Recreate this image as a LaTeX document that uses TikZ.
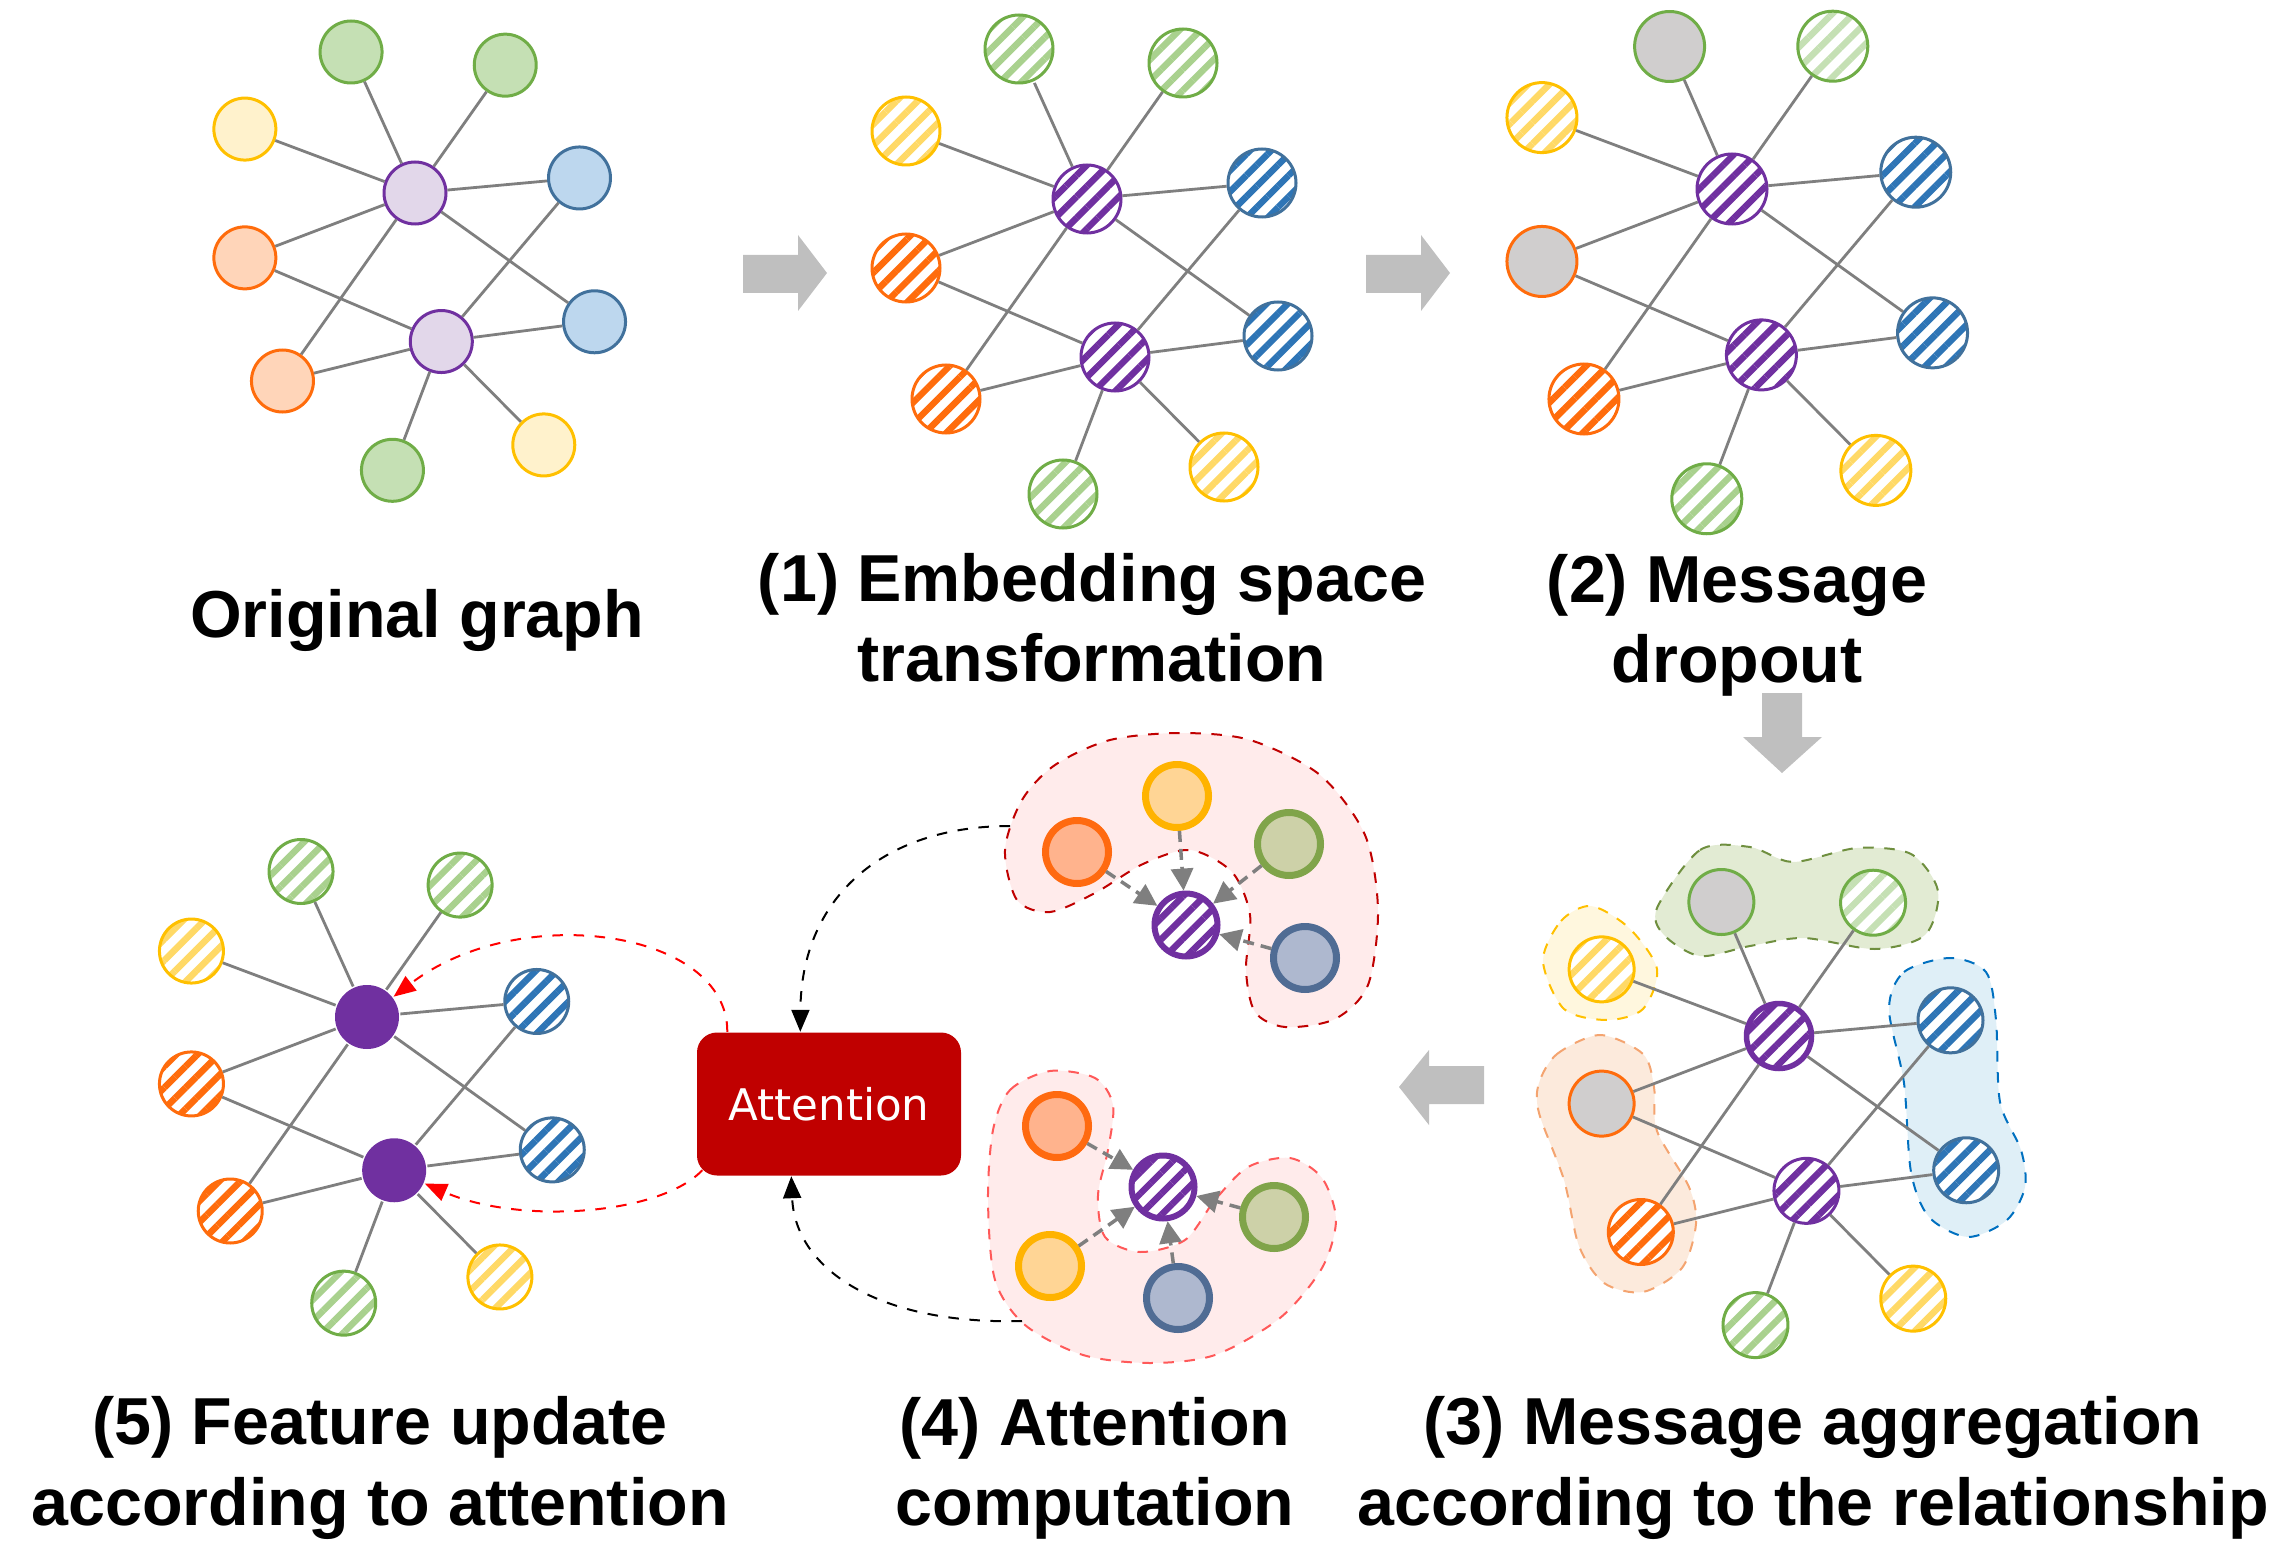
\documentclass[tikz,border=0pt]{standalone}
\usepackage{fontspec}
\newfontfamily\arialfont{Liberation Sans}
\newfontfamily\dejafont{DejaVu Sans}
\usetikzlibrary{calc,arrows.meta,patterns.meta}

\definecolor{edgegray}{HTML}{7F7F7F}
\definecolor{arrowgray}{HTML}{BFBFBF}
\definecolor{gbord}{HTML}{70AD47}
\definecolor{gfill}{HTML}{C5E0B4}
\definecolor{ghatch}{HTML}{A9D18E}
\definecolor{ybord}{HTML}{FFC000}
\definecolor{yfill}{HTML}{FFF2CC}
\definecolor{yhatch}{HTML}{FFD966}
\definecolor{obord}{HTML}{FF6C0C}
\definecolor{ofill}{HTML}{FFD5B9}
\definecolor{bbord}{HTML}{41719C}
\definecolor{bfill}{HTML}{BDD7EE}
\definecolor{bhatch}{HTML}{2E75B6}
\definecolor{pbord}{HTML}{7030A0}
\definecolor{pfill}{HTML}{E2D7EA}
\definecolor{dropfill}{HTML}{D0CECE}
\definecolor{attnred}{HTML}{C00000}
\definecolor{pinkfill}{HTML}{FFEBEB}
\definecolor{gblobline}{HTML}{6F8F3F}
\definecolor{gblobfill}{HTML}{E2EBD3}
\definecolor{yblobfill}{HTML}{FFF7DE}
\definecolor{oblobline}{HTML}{F4A470}
\definecolor{oblobfill}{HTML}{FCEADC}
\definecolor{bblobline}{HTML}{0070C0}
\definecolor{bblobfill}{HTML}{DFEFF7}
\definecolor{aoline}{HTML}{FF6A10}
\definecolor{aofill}{HTML}{FFB38D}
\definecolor{ayline}{HTML}{FFB300}
\definecolor{ayfill}{HTML}{FFD595}
\definecolor{agline}{HTML}{80A44A}
\definecolor{agfill}{HTML}{CDD1A8}
\definecolor{abline}{HTML}{506C94}
\definecolor{abfill}{HTML}{AEB8CF}

\tikzset{
  vertex/.style={circle, inner sep=0pt, line width=0.3mm},
  hatch/.style={preaction={fill=white},
    pattern={Lines[angle=45,distance=1.5mm,line width=0.65mm]}, pattern color=#1},
  gnode/.style={draw=gbord, hatch=ghatch},
  ynode/.style={draw=ybord, hatch=yhatch},
  onode/.style={draw=obord, hatch=obord},
  bnode/.style={draw=bbord, hatch=bhatch},
  pnode/.style={draw=pbord, hatch=pbord},
  ga/.style={gnode}, gb/.style={gnode}, gc/.style={gnode},
  ya/.style={ynode}, yb/.style={ynode},
  oa/.style={onode}, ob/.style={onode},
  ba/.style={bnode}, bb/.style={bnode},
  pa/.style={pnode}, pb/.style={pnode},
  dropg/.style={draw=gbord, fill=dropfill},
  dropo/.style={draw=obord, fill=dropfill},
  paleg/.style={draw=gbord, hatch=gfill},
  link/.style={draw=edgegray, line width=0.28mm},
  steptitle/.style={font=\arialfont\fontsize{18.9}{22.8}\selectfont\bfseries, align=center},
  blob/.style={line width=0.2mm, dashed},
  anode/.style={circle, inner sep=0pt, minimum size=6.3mm, line width=0.7mm},
  ao/.style={anode, draw=aoline, fill=aofill},
  ay/.style={anode, draw=ayline, fill=ayfill},
  ag/.style={anode, draw=agline, fill=agfill},
  ab/.style={anode, draw=abline, fill=abfill},
  ap/.style={anode, draw=pbord, line width=0.6mm, hatch=pbord},
  msg/.style={draw=edgegray, line width=0.35mm, dash pattern=on 1.1mm off 0.7mm,
    -{Triangle[length=2.2mm,width=2.2mm]}},
  loop/.style={line width=0.2mm, dashed, -{Triangle[length=2.2mm,width=1.8mm]}}
}

\newcommand{\graphnodes}[1]{%
  \node[vertex,ga] (#1ga) at (-68,-150) {};
  \node[vertex,gb] (#1gb) at (96,-136) {};
  \node[vertex,ya] (#1ya) at (-181,-68) {};
  \node[vertex,pa] (#1pa) at (0,0) {};
  \node[vertex,ba] (#1ba) at (175,-16) {};
  \node[vertex,oa] (#1oa) at (-181,69) {};
  \node[vertex,bb] (#1bb) at (191,137) {};
  \node[vertex,pb] (#1pb) at (28,158) {};
  \node[vertex,ob] (#1ob) at (-141,200) {};
  \node[vertex,gc] (#1gc) at (-24,295) {};
  \node[vertex,yb] (#1yb) at (137,268) {};
  \foreach \n in {ga,gb,ya,ba,oa,bb,ob}
    \draw[link] (#1pa) -- (#1\n);
  \foreach \n in {oa,ba,bb,ob,gc,yb}
    \draw[link] (#1pb) -- (#1\n);
}

\begin{document}
\begin{tikzpicture}[x=0.1mm, y=-0.1mm]
\useasboundingbox (0,0) rectangle (2292,1549);

% big gray arrows
\fill[arrowgray] (743,255) -- (798,255) -- (798,235) -- (827,273) -- (798,311) -- (798,293) -- (743,293) -- cycle;
\fill[arrowgray] (1366,255) -- (1421,255) -- (1421,235) -- (1450,273) -- (1421,311) -- (1421,293) -- (1366,293) -- cycle;
\fill[arrowgray] (1762,693) -- (1802,693) -- (1802,737) -- (1822,737) -- (1782,773) -- (1743,737) -- (1762,737) -- cycle;
\fill[arrowgray] (1484,1066) -- (1429,1066) -- (1429,1050) -- (1399,1087) -- (1429,1125) -- (1429,1104) -- (1484,1104) -- cycle;

% groups of step (3)
\draw[blob, draw=gblobline, fill=gblobfill] plot[smooth cycle] coordinates {(1657,908) (1700,850) (1750,847) (1793,862) (1857,848) (1911,854) (1938,891) (1925,935) (1875,949) (1804,938) (1750,946) (1700,956) (1664,935)};
\draw[blob, draw=ybord, fill=yblobfill] plot[smooth cycle] coordinates {(1543,961) (1561,921) (1591,906) (1629,928) (1657,969) (1643,1009) (1607,1020) (1564,1009)};
\draw[blob, draw=oblobline, fill=oblobfill] plot[smooth cycle] coordinates {(1539,1083) (1557,1054) (1600,1035) (1643,1054) (1654,1087) (1657,1131) (1689,1187) (1696,1224) (1682,1268) (1643,1292) (1604,1283) (1579,1246) (1564,1180) (1539,1113)};
\draw[blob, draw=bblobline, fill=bblobfill] plot[smooth cycle] coordinates {(1889,1009) (1904,972) (1950,958) (1986,972) (1996,1020) (2000,1102) (2021,1150) (2025,1187) (2007,1220) (1968,1237) (1929,1217) (1911,1172) (1904,1083)};

% groups of step (4)
\draw[blob, draw=attnred, fill=pinkfill] plot[smooth cycle] coordinates {(1005,850) (1022,800) (1055,765) (1110,740) (1180,733) (1250,740) (1320,775) (1365,835) (1378,910) (1368,985) (1335,1019) (1285,1027) (1255,1012) (1246,970) (1250,915) (1232,872) (1190,850) (1143,864) (1095,893) (1050,912) (1017,900)};
\draw[blob, draw=red!65, fill=pinkfill] plot[smooth cycle] coordinates {(993,1130) (1010,1090) (1050,1071) (1095,1078) (1113,1105) (1108,1150) (1098,1195) (1105,1237) (1140,1252) (1185,1240) (1215,1200) (1248,1167) (1290,1158) (1322,1178) (1336,1220) (1322,1268) (1280,1318) (1215,1355) (1150,1363) (1083,1355) (1025,1325) (995,1280) (988,1200)};

% original graph
\begin{scope}[shift={(415,193)}, scale=0.94, vertex/.append style={minimum size=6.2mm},
  gnode/.style={draw=gbord, fill=gfill}, ynode/.style={draw=ybord, fill=yfill},
  onode/.style={draw=obord, fill=ofill}, bnode/.style={draw=bbord, fill=bfill},
  pnode/.style={draw=pbord, fill=pfill}]
\graphnodes{g0}
\end{scope}

% (1)
\begin{scope}[shift={(1087,199)}, vertex/.append style={minimum size=6.8mm}]
\graphnodes{g1}
\end{scope}

% (2)
\begin{scope}[shift={(1732,189)}, scale=1.05, vertex/.append style={minimum size=7mm},
  ga/.style={dropg, xshift=0.9mm, yshift=-1.5mm}, oa/.style={dropo}, gb/.style={paleg}]
\graphnodes{g2}
\end{scope}

% (3)
\begin{scope}[shift={(1779,1036)}, scale=0.98, vertex/.append style={minimum size=6.5mm},
  ga/.style={dropg, xshift=0.9mm, yshift=-1.3mm}, oa/.style={dropo}, gb/.style={paleg},
  pa/.style={pnode, line width=0.55mm}]
\graphnodes{g3}
\end{scope}

% (5)
\begin{scope}[shift={(367,1017)}, scale=0.97, vertex/.append style={minimum size=6.4mm},
  pa/.style={fill=pbord}, pb/.style={fill=pbord}]
\graphnodes{g5}
\end{scope}

% (4) attention computation
\node[ao] (uo) at (1077,852) {};
\node[ay] (uy) at (1177,796) {};
\node[ag] (ug) at (1289,844) {};
\node[ab] (ub) at (1305,958) {};
\node[ap] (up) at (1186,925) {};
\foreach \n in {uo,uy,ug,ub}
  \draw[msg] (\n) -- (up);

\node[ao] (lo) at (1057,1126) {};
\node[ay] (ly) at (1050,1266) {};
\node[ag] (lg) at (1274,1217) {};
\node[ab] (lb) at (1178,1298) {};
\node[ap] (lp) at (1163,1187) {};
\foreach \n in {lo,ly,lg,lb}
  \draw[msg] (\n) -- (lp);

\node[fill=attnred, rounded corners=2mm, minimum width=26.4mm, minimum height=14.3mm,
  text=white, font=\dejafont\fontsize{12.4}{14}\selectfont] (attn) at (829,1104) {Attention};

\coordinate (ublob) at (1010,826);
\coordinate (lblob) at (1022,1321);
\draw[loop] (ublob) .. controls (880,826) and (801,900) .. ($(attn.north west)+(104,0)$);
\draw[loop] (lblob) .. controls (880,1325) and (795,1270) .. ($(attn.south west)+(95,0)$);

\draw[loop, red] ($(attn.north west)+(31,0)$) .. controls (728,930) and (520,900) .. (g5pa);
\draw[loop, red] ($(attn.south west)+(6,-6)$) .. controls (660,1215) and (520,1225) .. (g5pb);

% captions
\node[steptitle] (t0) at (417,620) {Original graph};
\node[steptitle] (t1) at (1092,618) {(1) Embedding space\\transformation};
\node[steptitle] (t2) at (1737,625) {(2) Message\\dropout};
\node[steptitle] (t5) at (380,1468) {(5) Feature update\\according to attention};
\node[steptitle] (t4) at (1095,1468) {(4) Attention\\computation};
\node[steptitle] (t3) at (1813,1468) {(3) Message aggregation\\according to the relationship};
\end{tikzpicture}
\end{document}
